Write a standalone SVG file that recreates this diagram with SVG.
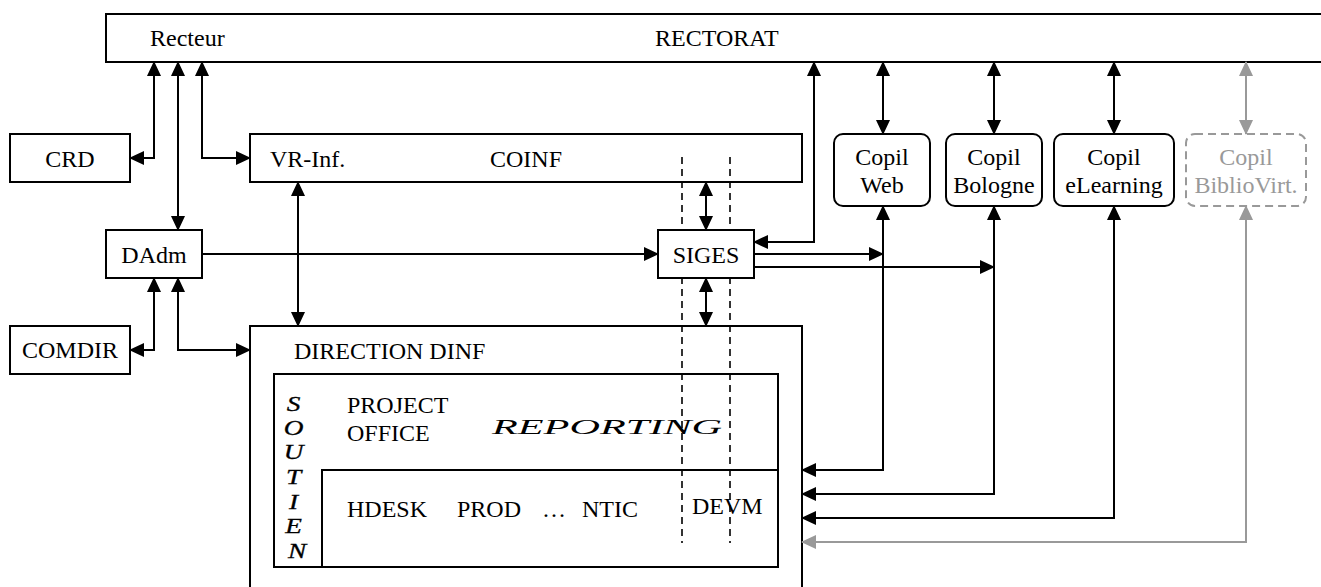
<svg xmlns="http://www.w3.org/2000/svg" width="1321" height="587" viewBox="0 0 1321 587">
  <style>
    .box { fill: #ffffff; stroke: #000000; stroke-width: 2; }
    .copil { fill: #ffffff; stroke: #000000; stroke-width: 2; }
    .copil-off { fill: #ffffff; stroke: #999999; stroke-width: 2; stroke-dasharray: 8 5; }
    .line { fill: none; stroke: #000000; stroke-width: 2; }
    .link { fill: none; stroke: #000000; stroke-width: 2; marker-start: url(#arr); marker-end: url(#arr); }
    .link-one { fill: none; stroke: #000000; stroke-width: 2; marker-end: url(#arr); }
    .link-off { fill: none; stroke: #999999; stroke-width: 2; marker-start: url(#arrGray); marker-end: url(#arrGray); }
    .scope { fill: none; stroke: #000000; stroke-width: 1.6; stroke-dasharray: 7 5; }
    text { font-family: "Liberation Serif", "Times New Roman", serif; font-size: 24px; fill: #000000; }
    .mid { text-anchor: middle; }
    .gray { fill: #999999; }
    .slant { font-style: italic; font-size: 21px; }
    .heavy { stroke: #000000; stroke-width: 0.3; }
  </style>
  <defs>
    <marker id="arr" markerUnits="userSpaceOnUse" markerWidth="15" markerHeight="14" refX="14" refY="7" orient="auto-start-reverse">
      <path d="M0,0 L15,7 L0,14 z" fill="#000000"/>
    </marker>
    <marker id="arrGray" markerUnits="userSpaceOnUse" markerWidth="15" markerHeight="14" refX="14" refY="7" orient="auto-start-reverse">
      <path d="M0,0 L15,7 L0,14 z" fill="#999999"/>
    </marker>
  </defs>

  <!-- Rectorat band -->
  <g id="rectorat">
    <rect class="box" x="106" y="14" width="1240" height="48"/>
    <text x="150" y="46">Recteur</text>
    <text x="655" y="46">RECTORAT</text>
  </g>

  <g id="crd">
    <rect class="box" x="10" y="134" width="120" height="48"/>
    <text class="mid" x="70" y="167">CRD</text>
  </g>

  <g id="coinf">
    <rect class="box" x="250" y="134" width="552" height="48"/>
    <text x="270" y="167">VR-Inf.</text>
    <text x="490" y="167">COINF</text>
  </g>

  <g id="dadm">
    <rect class="box" x="106" y="230" width="96" height="48"/>
    <text class="mid" x="154" y="263">DAdm</text>
  </g>

  <g id="comdir">
    <rect class="box" x="10" y="326" width="120" height="48"/>
    <text class="mid" x="70" y="358">COMDIR</text>
  </g>

  <!-- Direction DINF with its inner units -->
  <g id="dinf">
    <rect class="box" x="250" y="326" width="552" height="280"/>
    <text x="294" y="359">DIRECTION DINF</text>
    <rect class="box" x="274" y="374" width="504" height="193"/>
    <path class="line" d="M322,567 V470 H778"/>
    <!-- vertical SOUTIEN label, widened italic capitals -->
    <g transform="translate(297,0) scale(1.3,1)">
      <text class="slant heavy mid">
        <tspan x="0" y="411">S</tspan>
        <tspan x="0" y="435">O</tspan>
        <tspan x="0" y="459">U</tspan>
        <tspan x="0" y="484">T</tspan>
        <tspan x="0" y="509">I</tspan>
        <tspan x="0" y="533">E</tspan>
        <tspan x="0" y="558">N</tspan>
      </text>
    </g>
    <text x="347" y="413">PROJECT</text>
    <text x="347" y="441">OFFICE</text>
    <text class="slant" x="492" y="434" textLength="230" lengthAdjust="spacingAndGlyphs">REPORTING</text>
    <text x="347" y="517">HDESK</text>
    <text x="457" y="517">PROD</text>
    <text x="542" y="517">…</text>
    <text x="582" y="517">NTIC</text>
    <text x="692" y="514">DEVM</text>
  </g>

  <!-- SIGES scope running through COINF and DINF -->
  <g id="siges-scope">
    <line class="scope" x1="682" y1="157" x2="682" y2="543"/>
    <line class="scope" x1="730" y1="157" x2="730" y2="543"/>
  </g>

  <g id="siges">
    <rect class="box" x="658" y="230" width="96" height="48"/>
    <text class="mid" x="706" y="263">SIGES</text>
  </g>

  <g id="copil-web">
    <rect class="copil" x="834" y="134" width="96" height="72" rx="9"/>
    <text class="mid" x="882" y="165">Copil</text>
    <text class="mid" x="882" y="193">Web</text>
  </g>

  <g id="copil-bologne">
    <rect class="copil" x="946" y="134" width="96" height="72" rx="9"/>
    <text class="mid" x="994" y="165">Copil</text>
    <text class="mid" x="994" y="193">Bologne</text>
  </g>

  <g id="copil-elearning">
    <rect class="copil" x="1054" y="134" width="120" height="72" rx="9"/>
    <text class="mid" x="1114" y="165">Copil</text>
    <text class="mid" x="1114" y="193">eLearning</text>
  </g>

  <g id="copil-bibliovirt">
    <rect class="copil-off" x="1186" y="134" width="120" height="72" rx="9"/>
    <text class="mid gray" x="1246" y="165">Copil</text>
    <text class="mid gray" x="1246" y="193">BiblioVirt.</text>
  </g>

  <!-- Connectors -->
  <g id="connectors">
    <path class="link" d="M154,62 V158 H130"/>
    <path class="link" d="M178,62 V230"/>
    <path class="link" d="M202,62 V158 H250"/>
    <path class="link" d="M298,182 V326"/>
    <path class="link" d="M154,278 V350 H130"/>
    <path class="link" d="M178,278 V350 H250"/>
    <path class="link-one" d="M202,254 H658"/>
    <path class="link" d="M706,182 V230"/>
    <path class="link" d="M706,278 V326"/>
    <path class="link" d="M814,62 V242 H754"/>
    <path class="link" d="M883,62 V134"/>
    <path class="link" d="M994,62 V134"/>
    <path class="link" d="M1114,62 V134"/>
    <path class="link-off" d="M1246,62 V134"/>
    <path class="link-one" d="M754,254 H883"/>
    <path class="link-one" d="M754,267 H994"/>
    <path class="link" d="M883,206 V470 H802"/>
    <path class="link" d="M994,206 V494 H802"/>
    <path class="link" d="M1114,206 V518 H802"/>
    <path class="link-off" d="M1246,206 V542 H802"/>
  </g>
</svg>
